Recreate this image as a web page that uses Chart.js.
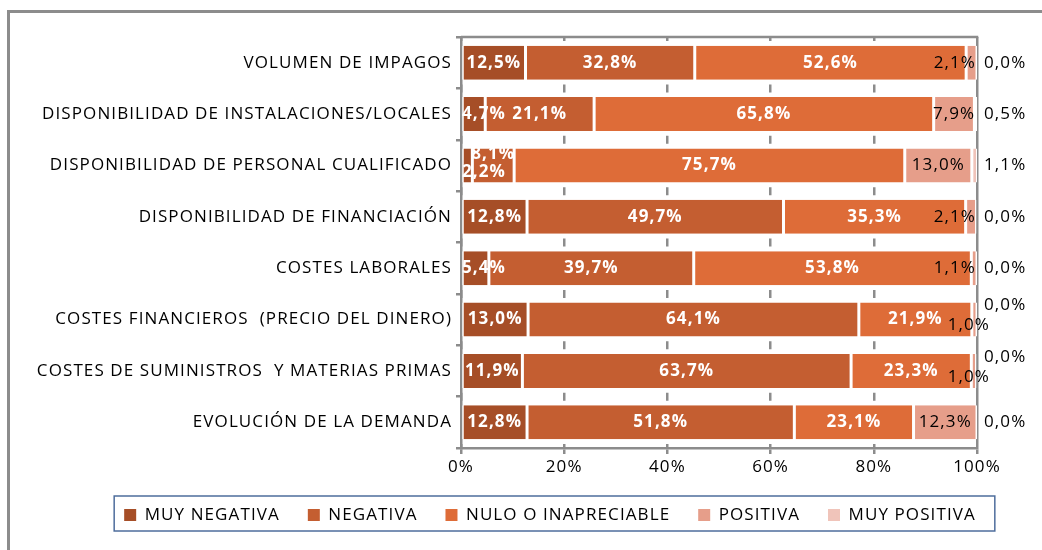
<!DOCTYPE html>
<html lang="es">
<head>
<meta charset="UTF-8" />
<title>Efecto de los factores en la actividad de la empresa</title>
<script src="https://cdn.jsdelivr.net/npm/chart.js@4.4.0/dist/chart.umd.min.js"></script>
<style>
   html, body { margin: 0; padding: 0; background: #fff; overflow: hidden; }
   .frame {
      position: absolute; left: 7px; top: 10px;
      width: 1100px; height: 600px;
      border: 3px solid #8c8c8c;
   }
   #chart { position: absolute; left: 0; top: 0; }
</style>
</head>
<body>
<div class="frame"></div>
<canvas id="chart" width="1100" height="550"></canvas>
<script>
   const categories = [
      'VOLUMEN DE IMPAGOS',
      'DISPONIBILIDAD DE INSTALACIONES/LOCALES',
      'DISPONIBILIDAD DE PERSONAL CUALIFICADO',
      'DISPONIBILIDAD DE FINANCIACIÓN',
      'COSTES LABORALES',
      'COSTES FINANCIEROS  (PRECIO DEL DINERO)',
      'COSTES DE SUMINISTROS  Y MATERIAS PRIMAS',
      'EVOLUCIÓN DE LA DEMANDA'
   ];
   const seriesNames = ['MUY NEGATIVA', 'NEGATIVA', 'NULO O INAPRECIABLE', 'POSITIVA', 'MUY POSITIVA'];
   const muyNegativa = [12.5, 4.7, 2.2, 12.8, 5.4, 13.0, 11.9, 12.8];
   const negativa    = [32.8, 21.1, 8.1, 49.7, 39.7, 64.1, 63.7, 51.8];
   const nulo        = [52.6, 65.8, 75.7, 35.3, 53.8, 21.9, 23.3, 23.1];
   const positiva    = [2.1, 7.9, 13.0, 2.1, 1.1, 1.0, 1.0, 12.3];
   const muyPositiva = [0.0, 0.5, 1.1, 0.0, 0.0, 0.0, 0.0, 0.0];
   const xTicks = [0, 20, 40, 60, 80, 100];

   const colors = ['#a64e27', '#c45e31', '#de6c38', '#e69e8a', '#f0c4ba'];
   const gridGray = '#8c8c8c';
   const FONT = "'Open Sans', 'Noto Sans', sans-serif";

   // label nudges where Excel moved overlapping labels: "row-series": [dx, dy]
   const nudges = {
      '2-0': [0, 7], '2-1': [0, -11],
      '5-3': [14, 6], '5-4': [0, -14],
      '6-3': [14, 6], '6-4': [0, -14]
   };

   const fmt = v => v.toFixed(1).replace('.', ',') + '%';

   const spacingPlugin = {
      id: 'spacing',
      beforeLayout(chart) { chart.ctx.letterSpacing = '1.1px'; },
      beforeDraw(chart) { chart.ctx.letterSpacing = '1.1px'; }
   };

   // plot area border on top (right side is the 100% gridline)
   const plotTopPlugin = {
      id: 'plotTop',
      beforeDatasetsDraw(chart) {
         const { ctx, chartArea: a } = chart;
         ctx.save();
         ctx.strokeStyle = gridGray;
         ctx.lineWidth = 2.5;
         ctx.beginPath();
         ctx.moveTo(a.left, a.top);
         ctx.lineTo(a.right + 1.25, a.top);
         ctx.stroke();
         ctx.restore();
      }
   };

   const labelPlugin = {
      id: 'barLabels',
      afterDatasetsDraw(chart) {
         const ctx = chart.ctx;
         const area = chart.chartArea;
         ctx.save();
         ctx.textBaseline = 'middle';
         chart.data.datasets.forEach((ds, si) => {
            const meta = chart.getDatasetMeta(si);
            meta.data.forEach((bar, ri) => {
               const text = fmt(ds.data[ri]);
               const nd = nudges[ri + '-' + si] || [0, 0];
               let x, align = 'center';
               if (si <= 2) {
                  ctx.font = 'bold 17px ' + FONT;
                  ctx.fillStyle = '#ffffff';
               } else {
                  ctx.font = '17px ' + FONT;
                  ctx.fillStyle = '#000000';
               }
               const w = ctx.measureText(text).width;
               if (si === 4) {
                  x = area.right + 7;
                  align = 'left';
               } else {
                  x = (bar.x + bar.base) / 2;
                  x = Math.max(area.left + w / 2 + 1, Math.min(area.right - w / 2 - 1, x));
               }
               ctx.textAlign = align;
               ctx.fillText(text, x + nd[0], bar.y + nd[1]);
            });
         });
         ctx.restore();
      }
   };

   const legendBoxPlugin = {
      id: 'legendBox',
      afterDraw(chart) {
         const hb = chart.legend.legendHitBoxes;
         if (!hb || !hb.length) return;
         const last = hb[hb.length - 1];
         const cy = hb[0].top + hb[0].height / 2;
         const ctx = chart.ctx;
         ctx.save();
         ctx.strokeStyle = '#4e6d9c';
         ctx.lineWidth = 1.5;
         ctx.strokeRect(hb[0].left - 10, cy - 19, last.left + last.width + 19 - (hb[0].left - 10), 35);
         ctx.restore();
      }
   };

   const dataSeries = [muyNegativa, negativa, nulo, positiva, muyPositiva];

   const chart = new Chart(document.getElementById('chart'), {
      type: 'bar',
      data: {
         labels: categories,
         datasets: dataSeries.map((d, i) => ({
            label: seriesNames[i],
            data: d,
            backgroundColor: colors[i],
            borderColor: '#ffffff',
            borderWidth: { left: 1.5, right: 1.5, top: 0, bottom: 0 },
            borderSkipped: false,
            barPercentage: 0.66,
            categoryPercentage: 1
         }))
      },
      options: {
         responsive: false,
         animation: false,
         indexAxis: 'y',
         layout: { padding: { left: 0, top: 37, right: 0, bottom: 16.5 } },
         plugins: {
            title: { display: false },
            tooltip: { enabled: false },
            legend: {
               position: 'bottom',
               labels: {
                  font: { family: FONT, size: 17 },
                  color: '#000',
                  boxWidth: 12,
                  boxHeight: 12,
                  padding: 28,
                  generateLabels(chart) {
                     return Chart.defaults.plugins.legend.labels.generateLabels(chart)
                        .map(l => Object.assign(l, { lineWidth: 0 }));
                  }
               }
            }
         },
         scales: {
            x: {
               stacked: true,
               min: 0,
               max: 100,
               afterBuildTicks: s => { s.ticks = xTicks.map(v => ({ value: v })); },
               afterFit: s => { s.height = 30.5; },
               ticks: {
                  callback: v => v + '%',
                  font: { family: FONT, size: 17 },
                  color: '#000',
                  padding: 3
               },
               grid: { color: gridGray, lineWidth: 2.5, tickLength: 6 },
               border: { display: true, color: gridGray, width: 2.5 }
            },
            y: {
               stacked: true,
               afterFit: s => { s.width = 461; },
               ticks: {
                  font: { family: FONT, size: 17 },
                  color: '#000',
                  padding: 4
               },
               grid: { offset: true, drawOnChartArea: false, color: gridGray, lineWidth: 2.5, tickLength: 5 },
               border: { display: true, color: gridGray, width: 2.5 }
            },
            pad: {
               type: 'linear',
               position: 'right',
               display: true,
               ticks: { display: false },
               grid: { display: false },
               border: { display: false },
               afterFit: s => { s.width = 123; }
            }
         }
      },
      plugins: [spacingPlugin, plotTopPlugin, labelPlugin, legendBoxPlugin]
   });

   // gridlines only show as short marks between the bars
   const step = (chart.chartArea.bottom - chart.chartArea.top) / categories.length;
   chart.options.scales.x.border.dash = c => (c.index === xTicks.length - 1 ? [] : [8, step - 8]);
   chart.options.scales.x.border.dashOffset = 4;
   chart.update('none');
</script>
</body>
</html>
